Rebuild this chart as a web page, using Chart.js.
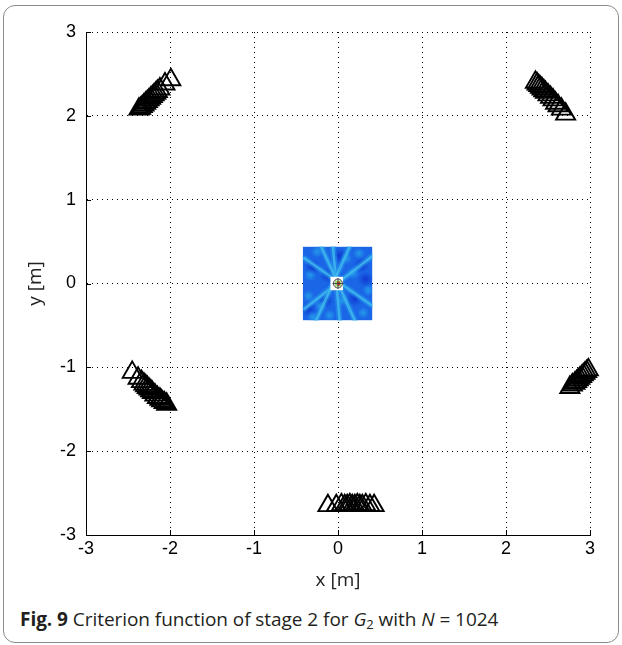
<!DOCTYPE html>
<html>
<head>
<meta charset="utf-8">
<script src="https://cdn.jsdelivr.net/npm/chart.js@4.4.1/dist/chart.umd.min.js"></script>
<style>
    html, body { margin: 0; padding: 0; background: #fff; }
    .frame {
        position: absolute; left: 3px; top: 5px; width: 616px; height: 638px;
        border: 1.5px solid #8c8c8c; border-radius: 12px; box-sizing: border-box;
    }
    .plot { position: absolute; left: 0; top: 0; width: 622px; height: 600px; }
    .caption {
        position: absolute; left: 20px; top: 606px; white-space: nowrap;
        font-family: 'Open Sans', sans-serif; font-size: 19px; color: #231f20;
        letter-spacing: -0.05px;
    }
    .caption sub { font-size: 13px; vertical-align: -3px; line-height: 0; }
</style>
</head>
<body>
<div class="frame"></div>
<div class="plot"><canvas id="chart" width="622" height="600"></canvas></div>
<div class="caption"><b>Fig. 9</b> Criterion function of stage 2 for <i>G</i><sub>2</sub> with <i>N</i> = 1024</div>
<script>
// axis limits
const axisMin = -3;
const axisMax = 3;

// triangle clusters (sensor positions over the stages)
const topLeftX = [-1.99, -2.06, -2.12, -2.15, -2.17, -2.19, -2.21, -2.23, -2.25, -2.27, -2.29, -2.31, -2.33, -2.35, -2.37];
const topLeftY = [2.43, 2.38, 2.32, 2.29, 2.27, 2.25, 2.23, 2.21, 2.19, 2.17, 2.15, 2.13, 2.11, 2.09, 2.08];

const topRightX = [2.35, 2.37, 2.39, 2.41, 2.43, 2.45, 2.47, 2.50, 2.53, 2.56, 2.59, 2.62, 2.66, 2.71];
const topRightY = [2.40, 2.38, 2.36, 2.34, 2.32, 2.30, 2.28, 2.25, 2.22, 2.19, 2.15, 2.12, 2.08, 2.02];

const bottomLeftX = [-2.45, -2.38, -2.34, -2.31, -2.29, -2.27, -2.25, -2.23, -2.21, -2.18, -2.15, -2.12, -2.10, -2.07, -2.04];
const bottomLeftY = [-1.06, -1.13, -1.17, -1.20, -1.22, -1.24, -1.26, -1.28, -1.30, -1.33, -1.36, -1.38, -1.40, -1.42, -1.44];

const rightX = [2.98, 2.96, 2.94, 2.92, 2.90, 2.88, 2.86, 2.84, 2.82, 2.79, 2.76];
const rightY = [-1.03, -1.05, -1.07, -1.09, -1.11, -1.13, -1.15, -1.17, -1.19, -1.21, -1.24];

const bottomX = [-0.12, -0.02, 0.04, 0.08, 0.11, 0.14, 0.17, 0.20, 0.23, 0.26, 0.29, 0.33, 0.38, 0.43];
const bottomY = [-2.65, -2.65, -2.64, -2.65, -2.65, -2.64, -2.65, -2.65, -2.64, -2.65, -2.65, -2.64, -2.65, -2.65];

// criterion function map around the source
const heatX = [-0.42, 0.41];
const heatY = [-0.44, 0.44];
const beamStartX = [-0.40, -0.40, -0.06, -0.20, 0.14];
const beamStartY = [-0.30, 0.30, 0.44, 0.44, 0.44];
const beamEndX = [0.40, 0.40, 0.02, 0.20, -0.26];
const beamEndY = [0.32, -0.26, -0.44, -0.44, -0.44];
const blobX = [-0.21, 0.36, -0.33, 0.25, -0.10, 0.30, -0.35, 0.10, -0.25, 0.18, 0.05, -0.30];
const blobY = [-0.27, -0.08, 0.10, 0.36, -0.38, -0.35, -0.15, 0.30, 0.38, 0.12, -0.20, -0.40];
const darkX = [-0.30, 0.28, -0.15, 0.20, 0.33, -0.35, 0.02, -0.12];
const darkY = [0.20, 0.22, -0.20, -0.18, 0.05, -0.30, 0.33, 0.10];
const peakX = [-0.09, 0.06];
const peakY = [-0.08, 0.08];

const toPoints = (xs, ys) => xs.map((x, i) => ({ x, y: ys[i] }));

const triangleSet = (xs, ys) => ({
    data: toPoints(xs, ys),
    showLine: false,
    clip: false,
    pointStyle: 'triangle',
    pointRadius: 11,
    pointHoverRadius: 11,
    borderColor: '#000',
    backgroundColor: 'rgba(255,255,255,0)',
    borderWidth: 1.9,
});

const spot = (ctx, cx, cy, rad, color) => {
    const g = ctx.createRadialGradient(cx, cy, 0, cx, cy, rad);
    g.addColorStop(0, color);
    g.addColorStop(1, color.replace(/[\d.]+\)$/, '0)'));
    ctx.fillStyle = g;
    ctx.fillRect(cx - rad, cy - rad, rad * 2, rad * 2);
};

const heatmapPlugin = {
    id: 'heatmap',
    beforeDatasetsDraw(chart) {
        const { ctx, scales: { x, y } } = chart;
        const px = (v) => x.getPixelForValue(v);
        const py = (v) => y.getPixelForValue(v);
        ctx.save();
        const left = px(heatX[0]);
        const right = px(heatX[1]);
        const top = py(heatY[1]);
        const bottom = py(heatY[0]);
        ctx.beginPath();
        ctx.rect(left, top, right - left, bottom - top);
        ctx.clip();
        ctx.fillStyle = '#1a66e6';
        ctx.fillRect(left, top, right - left, bottom - top);

        darkX.forEach((dx, i) => spot(ctx, px(dx), py(darkY[i]), 8, 'rgba(10,40,200,0.7)'));
        blobX.forEach((bx, i) => spot(ctx, px(bx), py(blobY[i]), 6, 'rgba(40,170,235,0.75)'));

        ctx.lineCap = 'round';
        beamStartX.forEach((sx, i) => {
            ctx.beginPath();
            ctx.moveTo(px(sx), py(beamStartY[i]));
            ctx.lineTo(px(beamEndX[i]), py(beamEndY[i]));
            ctx.strokeStyle = 'rgba(40,160,235,0.45)';
            ctx.lineWidth = 6;
            ctx.stroke();
            ctx.strokeStyle = 'rgba(70,195,240,0.7)';
            ctx.lineWidth = 2.5;
            ctx.stroke();
        });

        // bright peak at the estimated source position
        const l = px(peakX[0]);
        const r = px(peakX[1]);
        const t = py(peakY[1]);
        const b = py(peakY[0]);
        ctx.fillStyle = '#fff';
        ctx.fillRect(l, t, r - l, b - t);
        const cx = px(0);
        const cy = py(0);
        ctx.fillStyle = '#9be36a';
        ctx.fillRect(cx - 3, cy - 3, 6, 6);
        ctx.fillStyle = '#e3342f';
        ctx.fillRect(cx - 1, cy - 2, 3, 4);
        ctx.strokeStyle = '#444';
        ctx.lineWidth = 1;
        ctx.beginPath();
        ctx.arc(cx, cy, 4.5, 0, Math.PI * 2);
        ctx.moveTo(cx - 5, cy);
        ctx.lineTo(cx + 5, cy);
        ctx.moveTo(cx, cy - 5);
        ctx.lineTo(cx, cy + 5);
        ctx.stroke();
        ctx.restore();
    },
};

// matlab style ticks pointing into the axes
const innerTicksPlugin = {
    id: 'innerTicks',
    afterDraw(chart) {
        const { ctx, chartArea, scales: { x, y } } = chart;
        ctx.save();
        ctx.strokeStyle = '#000';
        ctx.lineWidth = 1;
        ctx.beginPath();
        x.ticks.forEach((t) => {
            const p = Math.round(x.getPixelForValue(t.value)) + 0.5;
            ctx.moveTo(p, chartArea.bottom);
            ctx.lineTo(p, chartArea.bottom - 5);
        });
        y.ticks.forEach((t) => {
            const p = Math.round(y.getPixelForValue(t.value)) + 0.5;
            ctx.moveTo(chartArea.left, p);
            ctx.lineTo(chartArea.left + 5, p);
        });
        ctx.stroke();
        ctx.restore();
    },
};

const tickFont = { family: "'Liberation Sans', Arial, sans-serif", size: 18 };
const titleFont = { family: "'Open Sans', sans-serif", size: 19 };

new Chart(document.getElementById('chart'), {
    type: 'scatter',
    data: {
        datasets: [
            triangleSet(topLeftX, topLeftY),
            triangleSet(topRightX, topRightY),
            triangleSet(bottomLeftX, bottomLeftY),
            triangleSet(rightX, rightY),
            triangleSet(bottomX, bottomY),
        ],
    },
    options: {
        responsive: false,
        animation: false,
        devicePixelRatio: 1,
        layout: { padding: { top: 32, right: 32, left: 0, bottom: 0 } },
        plugins: {
            legend: { display: false },
            tooltip: { enabled: false },
        },
        scales: {
            x: {
                type: 'linear',
                min: axisMin,
                max: axisMax,
                ticks: { stepSize: 1, color: '#000', font: tickFont, padding: 3, maxRotation: 0 },
                grid: { color: '#000', lineWidth: 1, drawTicks: false },
                border: { display: true, color: '#000', width: 1, dash: [1, 4] },
                title: { display: true, text: 'x [m]', color: '#222', font: titleFont, padding: { top: 0, bottom: 8 } },
                afterFit: (scale) => { scale.height = 65; },
            },
            y: {
                type: 'linear',
                min: axisMin,
                max: axisMax,
                ticks: { stepSize: 1, color: '#000', font: tickFont, padding: 10 },
                grid: { color: '#000', lineWidth: 1, drawTicks: false },
                border: { display: true, color: '#000', width: 1, dash: [1, 4] },
                title: { display: true, text: 'y [m]', color: '#222', font: titleFont, padding: { top: 24, bottom: 0 } },
                afterFit: (scale) => { scale.width = 86; },
            },
        },
    },
    plugins: [heatmapPlugin, innerTicksPlugin],
});
</script>
</body>
</html>
